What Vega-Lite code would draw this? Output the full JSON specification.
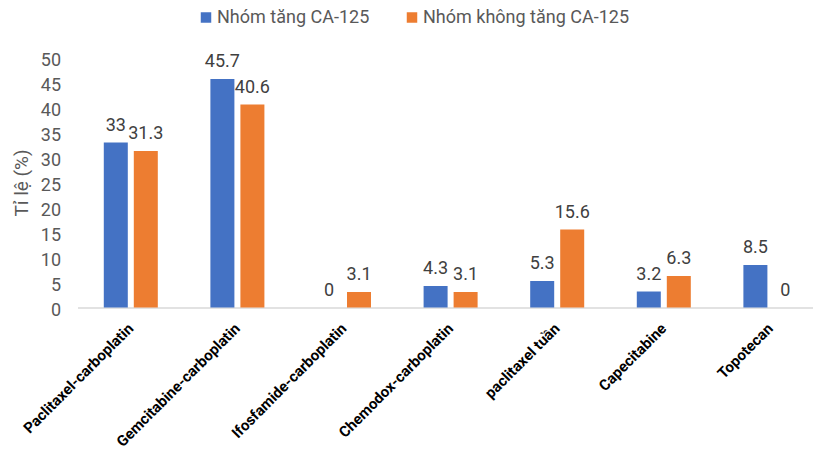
{
  "$schema": "https://vega.github.io/schema/vega-lite/v6.json",
  "width": 735.5,
  "height": 250,
  "autosize": {"type": "none"},
  "padding": {"left": 77.5, "top": 57.5, "right": 0, "bottom": 149.5},
  "background": "white",
  "config": {
    "view": {"stroke": null},
    "font": "Roboto",
    "axis": {"grid": false, "ticks": false},
    "axisY": {"titleFontSize": 19, "titleFontWeight": "normal", "titleColor": "#595959"}
  },
  "data": {
    "values": [
      {"regimen": "Paclitaxel-carboplatin", "group": "Nhóm tăng CA-125", "value": 33},
      {"regimen": "Paclitaxel-carboplatin", "group": "Nhóm không tăng CA-125", "value": 31.3},
      {"regimen": "Gemcitabine-carboplatin", "group": "Nhóm tăng CA-125", "value": 45.7},
      {"regimen": "Gemcitabine-carboplatin", "group": "Nhóm không tăng CA-125", "value": 40.6},
      {"regimen": "Ifosfamide-carboplatin", "group": "Nhóm tăng CA-125", "value": 0},
      {"regimen": "Ifosfamide-carboplatin", "group": "Nhóm không tăng CA-125", "value": 3.1},
      {"regimen": "Chemodox-carboplatin", "group": "Nhóm tăng CA-125", "value": 4.3},
      {"regimen": "Chemodox-carboplatin", "group": "Nhóm không tăng CA-125", "value": 3.1},
      {"regimen": "paclitaxel tuần", "group": "Nhóm tăng CA-125", "value": 5.3},
      {"regimen": "paclitaxel tuần", "group": "Nhóm không tăng CA-125", "value": 15.6},
      {"regimen": "Capecitabine", "group": "Nhóm tăng CA-125", "value": 3.2},
      {"regimen": "Capecitabine", "group": "Nhóm không tăng CA-125", "value": 6.3},
      {"regimen": "Topotecan", "group": "Nhóm tăng CA-125", "value": 8.5},
      {"regimen": "Topotecan", "group": "Nhóm không tăng CA-125", "value": 0}
    ]
  },
  "encoding": {
    "x": {
      "field": "regimen",
      "type": "nominal",
      "sort": null,
      "scale": {"range": [0, 746.2], "paddingInner": 0.437, "paddingOuter": 0.2185},
      "axis": {
        "title": null,
        "labelAngle": -45,
        "labelAlign": "right",
        "labelBaseline": "middle",
        "labelFontSize": 15,
        "labelFontWeight": "bold",
        "labelColor": "#000000",
        "labelPadding": 18,
        "labelLimit": 300,
        "domainColor": "#d9d9d9",
        "domainWidth": 1.5
      }
    },
    "xOffset": {
      "field": "group",
      "type": "nominal",
      "sort": ["Nhóm tăng CA-125", "Nhóm không tăng CA-125"],
      "scale": {"paddingInner": 0.2, "paddingOuter": 0.1}
    },
    "y": {
      "field": "value",
      "type": "quantitative",
      "scale": {"domain": [0, 50]},
      "axis": {
        "title": "Tỉ lệ (%)",
        "titleFontSize": 19,
        "titleFontWeight": "normal",
        "titleColor": "#595959",
        "titlePadding": 9,
        "values": [0, 5, 10, 15, 20, 25, 30, 35, 40, 45, 50],
        "labelFontSize": 18,
        "labelColor": "#595959",
        "labelPadding": 17,
        "labelOffset": 3,
        "domain": false
      }
    }
  },
  "layer": [
    {
      "mark": {"type": "bar"},
      "encoding": {
        "color": {
          "field": "group",
          "type": "nominal",
          "sort": ["Nhóm tăng CA-125", "Nhóm không tăng CA-125"],
          "scale": {"domain": ["Nhóm tăng CA-125", "Nhóm không tăng CA-125"], "range": ["#4472C4", "#ED7D31"]},
          "legend": {
            "title": null,
            "orient": "none",
            "direction": "horizontal",
            "legendX": 119.5,
            "legendY": -49,
            "symbolType": "square",
            "symbolSize": 110,
            "symbolStrokeWidth": 0,
            "labelFontSize": 18,
            "labelColor": "#595959",
            "labelOffset": 2,
            "labelLimit": 400,
            "columnPadding": 33,
            "padding": 0
          }
        }
      }
    },
    {
      "mark": {"type": "text", "baseline": "alphabetic", "dy": -12, "fontSize": 18, "color": "#404040"},
      "encoding": {
        "text": {"field": "value", "type": "quantitative"}
      }
    }
  ]
}
